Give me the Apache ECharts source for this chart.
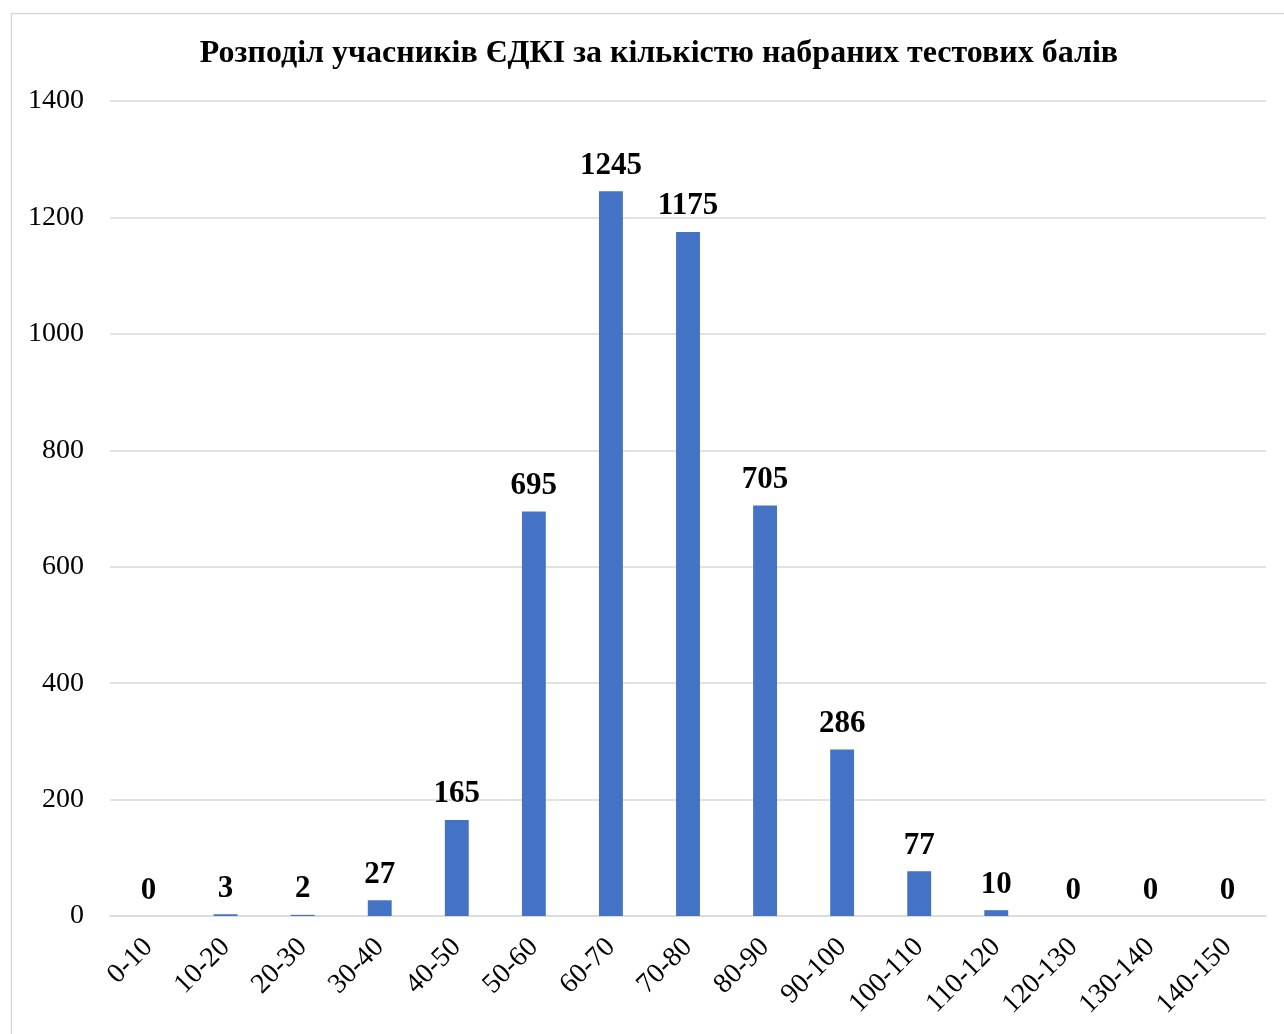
<!DOCTYPE html>
<html>
<head>
<meta charset="utf-8">
<script src="https://cdn.jsdelivr.net/npm/echarts@6/dist/echarts.min.js"></script>
<style>
html,body{margin:0;padding:0;background:#fff;}
#chart{width:1284px;height:1034px;}
</style>
</head>
<body>
<div id="chart"></div>
<script>
const titleText = 'Розподіл учасників ЄДКІ за кількістю набраних тестових балів';
const categories = ['0-10','10-20','20-30','30-40','40-50','50-60','60-70','70-80','80-90','90-100','100-110','110-120','120-130','130-140','140-150'];
const counts = [0,3,2,27,165,695,1245,1175,705,286,77,10,0,0,0];
const yTicks = {min:0, max:1400, interval:200};

const serif = '"Liberation Serif","Times New Roman",serif';
const chart = echarts.init(document.getElementById('chart'));
chart.setOption({
  animation:false,
  backgroundColor:'#fff',
  graphic:[{type:'rect', left:9, top:11, shape:{width:1400, height:1100}, style:{fill:'none', stroke:'#d9d9d9', lineWidth:1.5}, silent:true}],
  title:{
    text:titleText, left:654, top:33, textAlign:'center',
    textStyle:{fontFamily:serif, fontWeight:'bold', fontSize:32, color:'#000'}
  },
  grid:{left:110, right:18, top:101, bottom:118},
  xAxis:{
    type:'category', data:categories,
    axisLine:{lineStyle:{color:'#d9d9d9', width:1.5}},
    axisTick:{show:false},
    axisLabel:{rotate:45, interval:0, fontFamily:serif, fontSize:28, color:'#000', margin:27}
  },
  yAxis:{
    type:'value', min:yTicks.min, max:yTicks.max, interval:yTicks.interval,
    axisLine:{show:false}, axisTick:{show:false},
    splitLine:{lineStyle:{color:'#d9d9d9', width:1.5}},
    axisLabel:{fontFamily:serif, fontSize:28, color:'#000', margin:26, formatter:function(v){return String(v);}}
  },
  series:[{
    type:'bar', data:counts, barWidth:'31%',
    itemStyle:{color:'#4472C4'},
    label:{show:true, position:'top', distance:10, fontFamily:serif, fontWeight:'bold', fontSize:31, color:'#000'}
  }]
});
</script>
</body>
</html>
